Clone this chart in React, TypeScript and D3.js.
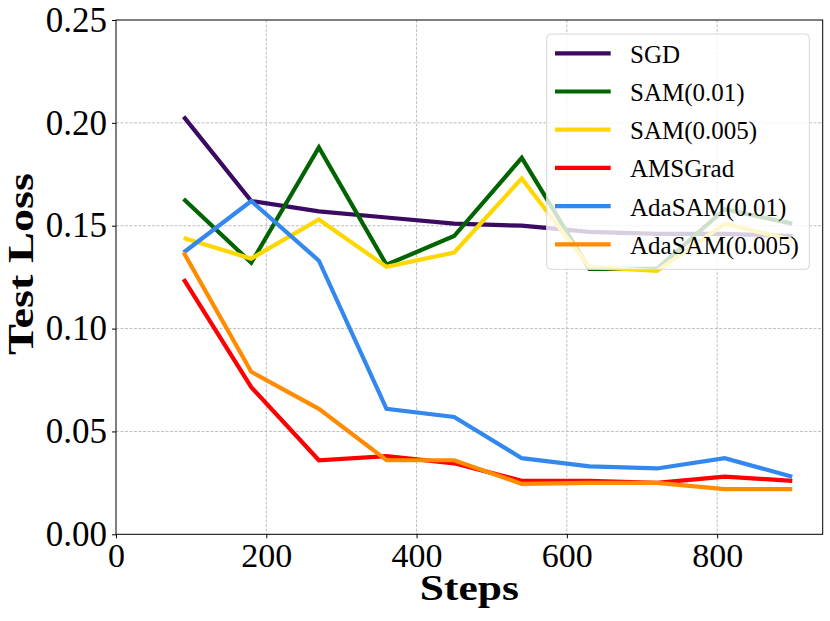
import { useEffect, useRef } from "react";
import * as d3 from "d3";

const steps = [90, 180, 270, 360, 450, 540, 630, 720, 810, 900];

const sgd = [0.203, 0.162, 0.157, 0.154, 0.151, 0.15, 0.147, 0.146, 0.146, 0.145];
const sam01 = [0.163, 0.132, 0.188, 0.131, 0.145, 0.183, 0.129, 0.129, 0.158, 0.151];
const sam005 = [0.144, 0.134, 0.153, 0.13, 0.137, 0.173, 0.13, 0.128, 0.151, 0.143];
const amsgrad = [0.124, 0.0715, 0.036, 0.038, 0.0345, 0.026, 0.026, 0.025, 0.028, 0.026];
const adasam01 = [0.137, 0.162, 0.133, 0.061, 0.057, 0.037, 0.033, 0.032, 0.037, 0.028];
const adasam005 = [0.137, 0.079, 0.061, 0.036, 0.036, 0.0245, 0.025, 0.025, 0.022, 0.022];

const seriesNames = ["SGD", "SAM(0.01)", "SAM(0.005)", "AMSGrad", "AdaSAM(0.01)", "AdaSAM(0.005)"];
const seriesValues = [sgd, sam01, sam005, amsgrad, adasam01, adasam005];
const seriesColors = ["#3b0a63", "#006400", "#ffd700", "#ff0000", "#3388ee", "#ff8c00"];

const xTicks = [0, 200, 400, 600, 800];
const yTicks = [0, 0.05, 0.1, 0.15, 0.2, 0.25];

const font = "'Liberation Serif', 'Times New Roman', serif";

export default function App() {
	const svgRef = useRef<SVGSVGElement>(null);

	useEffect(() => {
		if (!svgRef.current) {
			return;
		}
		const svg = d3.select(svgRef.current);
		svg.selectAll("*").remove();

		const left = 116;
		const right = 822.7;
		const top = 20;
		const bottom = 534.3;

		const x = d3.scaleLinear().domain([0, 940.5]).range([left, right]);
		const y = d3.scaleLinear().domain([0, 0.25]).range([bottom, top]);

		// grid
		const grid = svg.append("g").attr("stroke", "#b0b0b0").attr("stroke-width", 0.8).attr("stroke-dasharray", "3,1.5");
		grid
			.selectAll("line.gx")
			.data(xTicks.slice(1))
			.join("line")
			.attr("x1", (d) => x(d))
			.attr("x2", (d) => x(d))
			.attr("y1", top)
			.attr("y2", bottom);
		grid
			.selectAll("line.gy")
			.data(yTicks.slice(1, -1))
			.join("line")
			.attr("x1", left)
			.attr("x2", right)
			.attr("y1", (d) => y(d))
			.attr("y2", (d) => y(d));

		// lines
		const line = d3
			.line<number>()
			.x((_, i) => x(steps[i]))
			.y((d) => y(d));

		svg
			.append("g")
			.selectAll("path")
			.data(seriesValues)
			.join("path")
			.attr("d", (d) => line(d))
			.attr("fill", "none")
			.attr("stroke", (_, i) => seriesColors[i])
			.attr("stroke-width", 4.2)
			.attr("stroke-linejoin", "miter")
			.attr("stroke-linecap", "butt");

		// spines
		svg
			.append("rect")
			.attr("x", left)
			.attr("y", top)
			.attr("width", right - left)
			.attr("height", bottom - top)
			.attr("fill", "none")
			.attr("stroke", "#000")
			.attr("stroke-width", 1);

		// axes
		const xAxis = svg
			.append("g")
			.attr("transform", `translate(0,${bottom})`)
			.call(d3.axisBottom(x).tickValues(xTicks).tickSize(4).tickPadding(5).tickFormat((d) => `${d}`));
		xAxis.select(".domain").remove();
		xAxis.selectAll("text").attr("font-family", font).attr("font-size", 34).attr("fill", "#000");

		const yAxis = svg
			.append("g")
			.attr("transform", `translate(${left},0)`)
			.call(d3.axisLeft(y).tickValues(yTicks).tickSize(4).tickPadding(5).tickFormat(d3.format(".2f")));
		yAxis.select(".domain").remove();
		yAxis.selectAll("text").attr("font-family", font).attr("font-size", 35).attr("fill", "#000");

		svg
			.append("text")
			.attr("x", (left + right) / 2)
			.attr("y", 600)
			.attr("text-anchor", "middle")
			.attr("font-family", font)
			.attr("font-weight", "bold")
			.attr("font-size", 36)
			.attr("textLength", 99)
			.attr("lengthAdjust", "spacingAndGlyphs")
			.text("Steps");

		svg
			.append("text")
			.attr("transform", `translate(33,264) rotate(-90)`)
			.attr("text-anchor", "middle")
			.attr("font-family", font)
			.attr("font-weight", "bold")
			.attr("font-size", 36)
			.attr("textLength", 182)
			.attr("lengthAdjust", "spacingAndGlyphs")
			.text("Test Loss");

		// legend
		const legend = svg.append("g");
		legend
			.append("rect")
			.attr("x", 546.7)
			.attr("y", 34)
			.attr("width", 262.6)
			.attr("height", 235.3)
			.attr("rx", 4)
			.attr("fill", "#fff")
			.attr("fill-opacity", 0.8)
			.attr("stroke", "#d6d6d6")
			.attr("stroke-width", 1);

		const items = legend
			.selectAll("g.item")
			.data(seriesNames)
			.join("g")
			.attr("class", "item")
			.attr("transform", (_, i) => `translate(0,${53.3 + i * 38.2})`);

		items
			.append("line")
			.attr("x1", 555)
			.attr("x2", 610.7)
			.attr("y1", 0)
			.attr("y2", 0)
			.attr("stroke", (_, i) => seriesColors[i])
			.attr("stroke-width", 4.2);

		items
			.append("text")
			.attr("x", 630)
			.attr("y", 9.5)
			.attr("font-family", font)
			.attr("font-size", 25)
			.attr("fill", "#000")
			.text((d) => d);
	}, []);

	return (
		<svg
			ref={svgRef}
			width={830}
			height={621}
			style={{ position: "absolute", left: 0, top: 0, background: "#fff" }}
		/>
	);
}
